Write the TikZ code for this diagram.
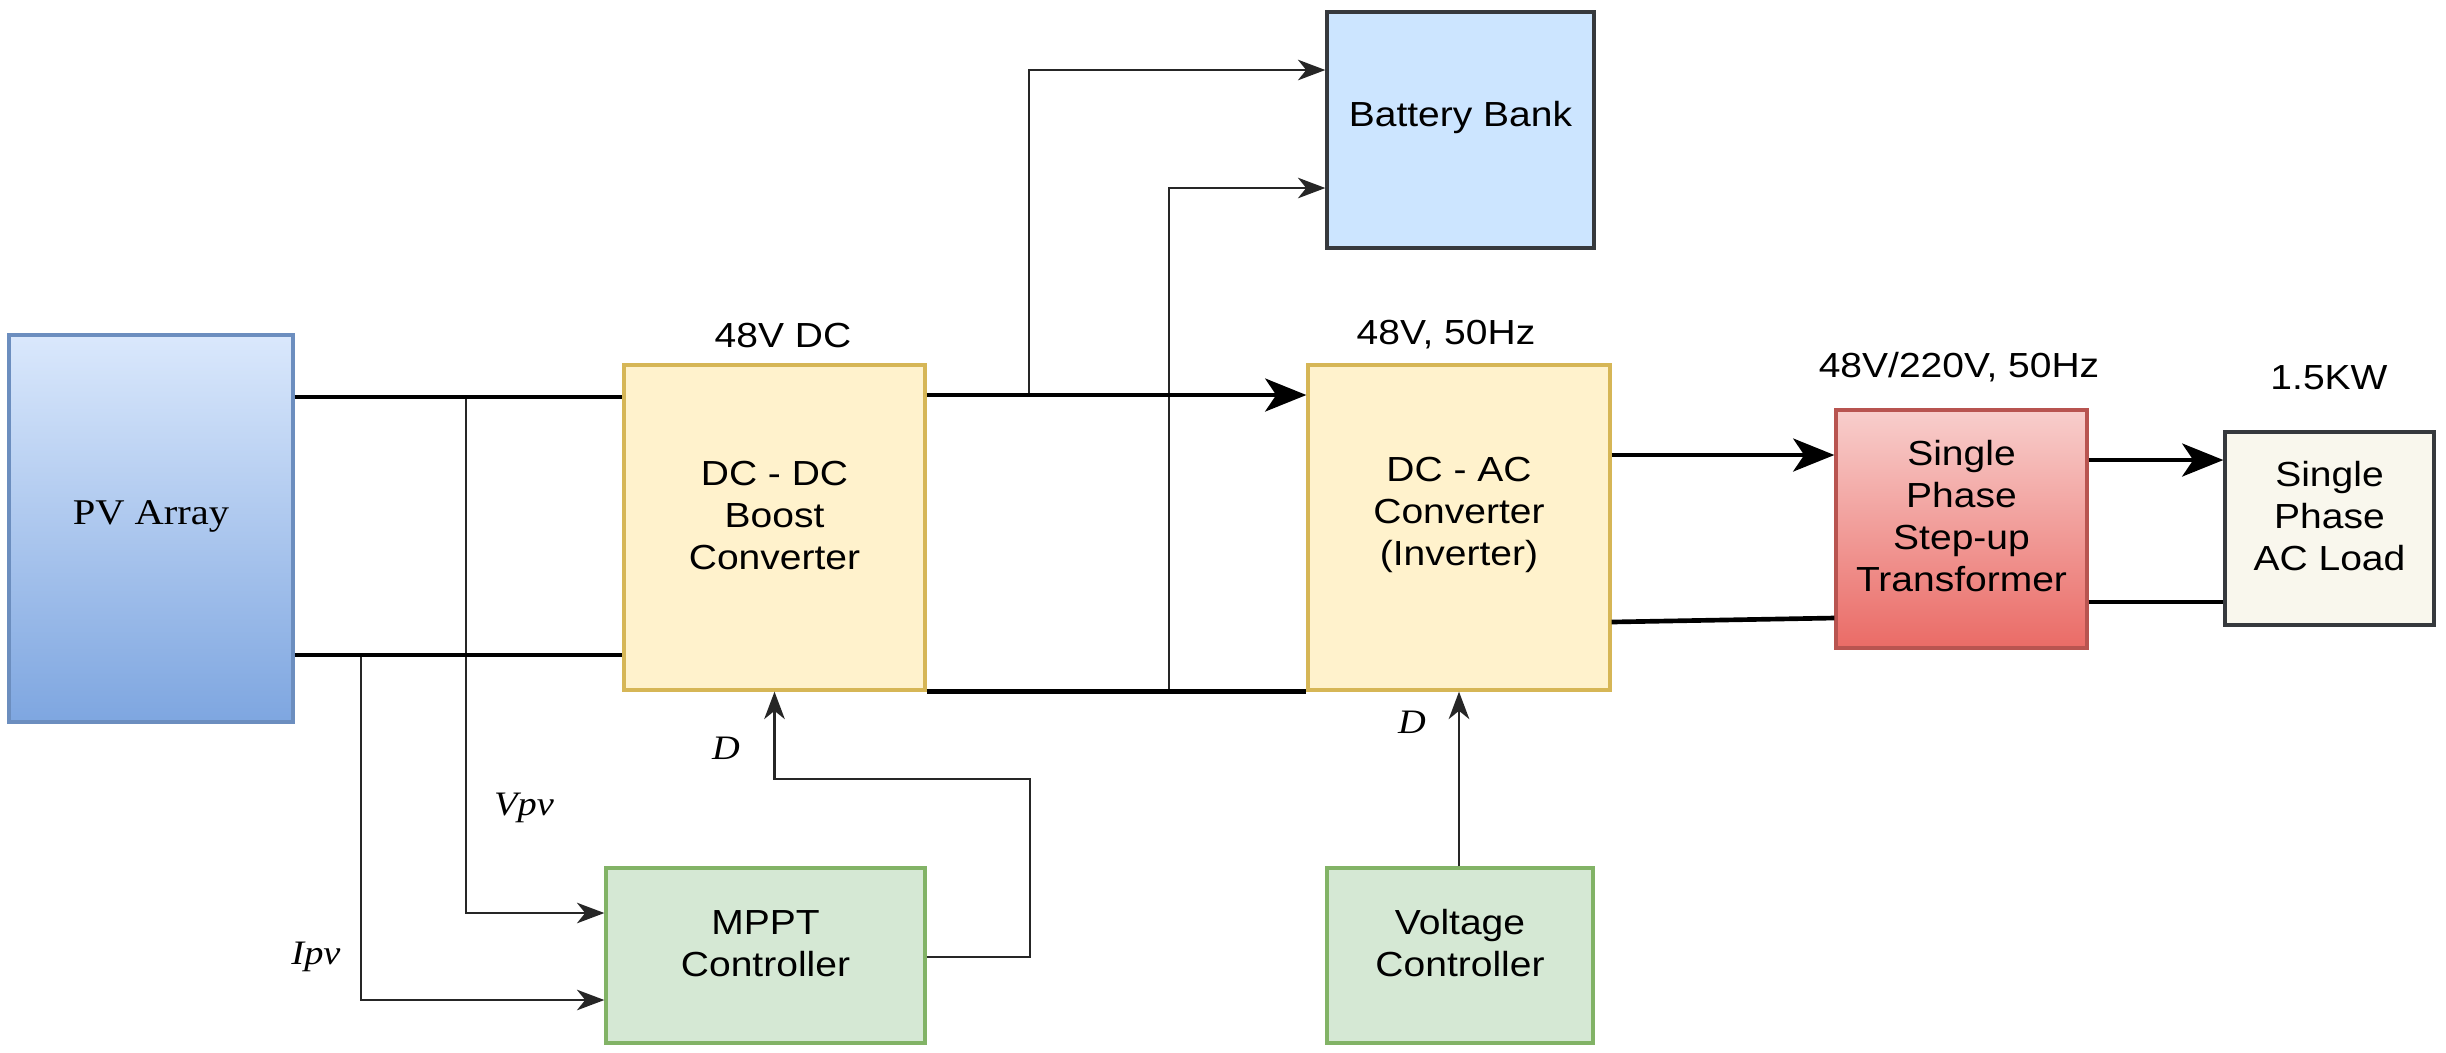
\documentclass[tikz,border=0pt]{standalone}
\usepackage{fontspec}
\setmainfont{Liberation Sans}[FakeStretch=1.12]
\newfontfamily\serifx{Liberation Serif}[FakeStretch=1.12]
\usetikzlibrary{arrows.meta,fit}
\definecolor{pvtop}{HTML}{DAE8FC}
\definecolor{pvbot}{HTML}{7EA6E0}
\definecolor{pvline}{HTML}{6C8EBF}
\definecolor{yfill}{HTML}{FFF2CC}
\definecolor{yline}{HTML}{D6B656}
\definecolor{bfill}{HTML}{CCE5FF}
\definecolor{dline}{HTML}{36393D}
\definecolor{rtop}{HTML}{F8CECC}
\definecolor{rbot}{HTML}{EA6B66}
\definecolor{rline}{HTML}{B85450}
\definecolor{lfill}{HTML}{F9F7ED}
\definecolor{gfill}{HTML}{D5E8D4}
\definecolor{gline}{HTML}{82B366}
\begin{document}
\begin{tikzpicture}[x=0.0128205cm,y=-0.0128205cm,
  every node/.style={font=\fontsize{12.7}{15.3}\selectfont},
  blk/.style={inner sep=0pt,align=center,line width=1.2pt},
  thk/.style={line width=1.7pt,black},
  thn/.style={line width=0.85pt,black!85},
  tarr/.style={-{Stealth[length=15pt,width=12pt,inset=4pt]}},
  sarr/.style={-{Stealth[length=10pt,width=7.5pt,inset=3pt]}},
  lbl/.style={inner sep=0pt},
  ilbl/.style={inner sep=0pt,font=\fontsize{12.5}{15}\selectfont\serifx\itshape}]
\useasboundingbox (0,0) rectangle (2446,1052);

% blocks
\node[blk,fit={(9,335) (293,722)},draw=pvline,top color=pvtop,bottom color=pvbot,font=\fontsize{13.2}{15.3}\selectfont\serifx] (pv) {PV Array};
\node[blk,fit={(624,365) (925,690)},draw=yline,fill=yfill] (boost) {DC - DC\\Boost\\Converter};
\node[blk,fit={(1327,12) (1594,248)},draw=dline,fill=bfill] (bat) {Battery Bank};
\node[blk,fit={(1308,365) (1610,690)},draw=yline,fill=yfill] (inv) {DC - AC\\Converter\\(Inverter)};
\node[blk,fit={(1836,410) (2087,648)},draw=rline,top color=rtop,bottom color=rbot] (tr) {Single\\Phase\\Step-up\\Transformer};
\node[blk,fit={(2225,432) (2434,625)},draw=dline,fill=lfill] (load) {Single\\Phase\\AC Load};
\node[blk,fit={(606,868) (925,1043)},draw=gline,fill=gfill] (mppt) {MPPT\\Controller};
\node[blk,fit={(1327,868) (1593,1043)},draw=gline,fill=gfill] (vc) {Voltage\\Controller};

% labels
\node[lbl] (l1) at (783,335) {48V DC};
\node[lbl] (l2) at (1446,335) {48V, 50Hz};
\node[lbl] (l3) at (1959,367) {48V/220V, 50Hz};
\node[lbl] (l4) at (2329,378) {1.5KW};
\node[ilbl] (d1) at (726,748) {D};
\node[ilbl] (d2) at (1412,722) {D};
\node[ilbl] (vpv) at (524,808) {Vpv};
\node[ilbl] (ipv) at (316,957) {Ipv};

% junctions
\coordinate (j1) at (466,397);
\coordinate (j2) at (361,655);
\coordinate (j3) at (1029,395);
\coordinate (j4) at (1169,690);
\coordinate (m1) at (1030,779);

% thin signal lines
\draw[thn,sarr] (j1) |- (mppt.west |- 0,913);
\draw[thn,sarr] (j2) |- (mppt.west |- 0,1000);
\draw[thn,sarr] (mppt.east |- 0,957) -| (m1) -| (boost.south);
\draw[thn,sarr] (j3) |- (bat.west |- 0,70);
\draw[thn,sarr] (j4) |- (bat.west |- 0,188);
\draw[thn,sarr] (vc.north -| inv.south) -- (inv.south);

% power lines
\draw[thk] (pv.east |- 0,397) -- (boost.west |- 0,397);
\draw[thk] (pv.east |- 0,655) -- (boost.west |- 0,655);
\draw[thk,tarr] (boost.east |- 0,395) -- (inv.west |- 0,395);
\draw[thk] (boost.south east) -- (inv.south west);
\draw[thk,tarr] (inv.east |- 0,455) -- (tr.west |- 0,455);
\draw[thk] (inv.east |- 0,622) -- (tr.west |- 0,618);
\draw[thk,tarr] (tr.east |- 0,460) -- (load.west |- 0,460);
\draw[thk] (tr.east |- 0,602) -- (load.west |- 0,602);
\end{tikzpicture}
\end{document}
